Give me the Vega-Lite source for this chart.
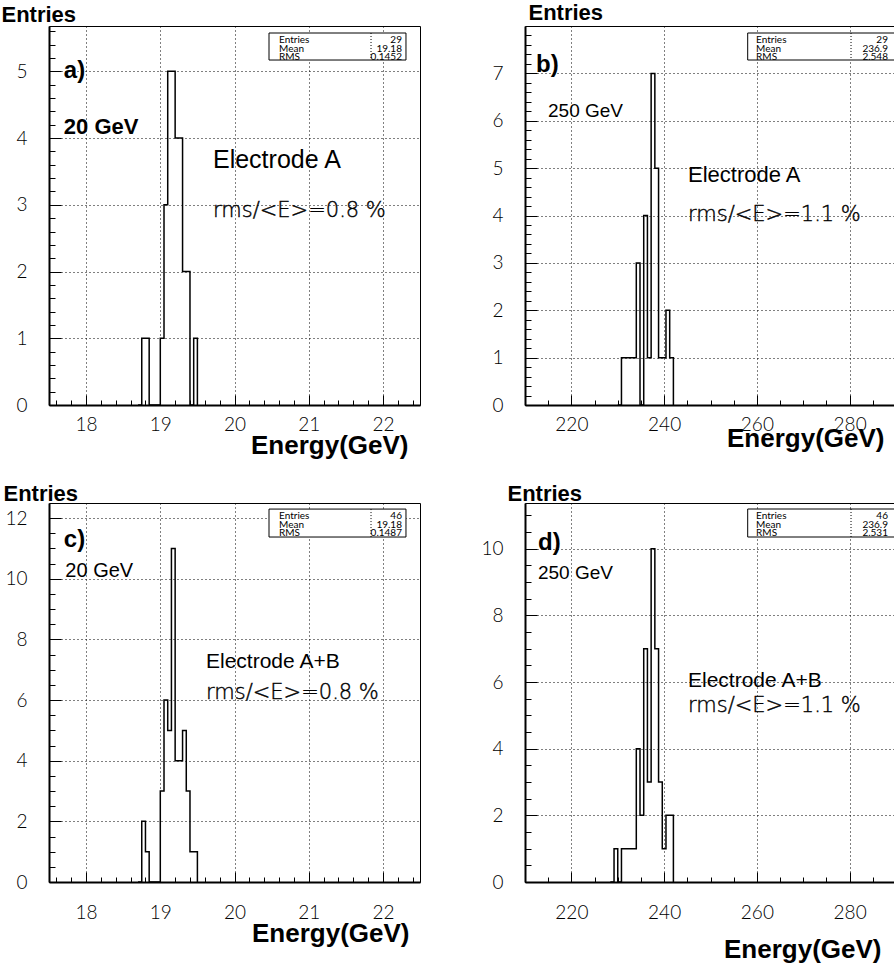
{
  "$schema": "https://vega.github.io/schema/vega-lite/v6.json",
  "background": "white",
  "padding": {"left": 0, "top": 0, "right": 0, "bottom": 0},
  "columns": 2,
  "spacing": {"row": 98, "column": 105},
  "bounds": "flush",
  "datasets": {
    "histA": [
      {"lo": 18.70, "n": 0}, {"lo": 18.75, "n": 1}, {"lo": 18.80, "n": 1}, {"lo": 18.85, "n": 0},
      {"lo": 19.00, "n": 1}, {"lo": 19.05, "n": 3}, {"lo": 19.10, "n": 5}, {"lo": 19.15, "n": 5},
      {"lo": 19.20, "n": 4}, {"lo": 19.25, "n": 4}, {"lo": 19.30, "n": 2}, {"lo": 19.35, "n": 2},
      {"lo": 19.40, "n": 0}, {"lo": 19.45, "n": 1}, {"lo": 19.50, "n": 0}
    ],
    "histB": [
      {"lo": 230.0, "n": 0}, {"lo": 230.8, "n": 1}, {"lo": 231.6, "n": 1}, {"lo": 232.4, "n": 1},
      {"lo": 233.2, "n": 1}, {"lo": 234.0, "n": 3}, {"lo": 234.8, "n": 0}, {"lo": 235.6, "n": 4},
      {"lo": 236.4, "n": 1}, {"lo": 237.2, "n": 7}, {"lo": 238.0, "n": 5}, {"lo": 238.8, "n": 1},
      {"lo": 239.6, "n": 1}, {"lo": 240.4, "n": 2}, {"lo": 241.2, "n": 1}, {"lo": 242.0, "n": 0}
    ],
    "histC": [
      {"lo": 18.70, "n": 0}, {"lo": 18.75, "n": 2}, {"lo": 18.80, "n": 1}, {"lo": 18.85, "n": 0},
      {"lo": 19.00, "n": 3}, {"lo": 19.05, "n": 6}, {"lo": 19.10, "n": 5}, {"lo": 19.15, "n": 11},
      {"lo": 19.20, "n": 4}, {"lo": 19.25, "n": 4}, {"lo": 19.30, "n": 5}, {"lo": 19.35, "n": 3},
      {"lo": 19.40, "n": 1}, {"lo": 19.45, "n": 1}, {"lo": 19.50, "n": 0}
    ],
    "histD": [
      {"lo": 228.4, "n": 0}, {"lo": 229.2, "n": 1}, {"lo": 230.0, "n": 0}, {"lo": 230.8, "n": 1},
      {"lo": 231.6, "n": 1}, {"lo": 232.4, "n": 1}, {"lo": 233.2, "n": 1}, {"lo": 234.0, "n": 4},
      {"lo": 234.8, "n": 2}, {"lo": 235.6, "n": 7}, {"lo": 236.4, "n": 3}, {"lo": 237.2, "n": 10},
      {"lo": 238.0, "n": 7}, {"lo": 238.8, "n": 3}, {"lo": 239.6, "n": 1}, {"lo": 240.4, "n": 2},
      {"lo": 241.2, "n": 2}, {"lo": 242.0, "n": 0}
    ],
    "one": [{}]
  },
  "concat": [
    {
      "width": 371, "height": 379,
      "resolve": {"axis": {"x": "independent", "y": "independent"}},
      "layer": [
        {
          "data": {"name": "histA"},
          "mark": {"type": "line", "interpolate": "step-after", "color": "black", "strokeWidth": 1.5},
          "encoding": {
            "x": {"field": "lo", "type": "quantitative", "scale": {"domain": [17.5, 22.5], "nice": false, "zero": false},
              "axis": {"orient": "bottom", "values": [18, 19, 20, 21, 22], "format": "d", "grid": true, "tickSize": -10, "labelPadding": 20,
                "title": "Energy(GeV)", "titleFontSize": 26, "titleAlign": "right", "titleBaseline": "alphabetic", "titleX": 359, "titleY": 48}},
            "y": {"field": "n", "type": "quantitative", "scale": {"domain": [0, 5.68], "nice": false},
              "axis": {"orient": "left", "values": [0, 1, 2, 3, 4, 5], "format": "d", "grid": true, "tickSize": -12, "labelPadding": 34,
                "title": "Entries", "titleFontSize": 22, "titleAngle": 0, "titleAlign": "left", "titleBaseline": "middle", "titleX": -48, "titleY": -12}}
          }
        },
        {
          "data": {"name": "histA"},
          "mark": {"type": "line", "strokeOpacity": 0},
          "encoding": {
            "x": {"field": "lo", "type": "quantitative", "scale": {"domain": [17.5, 22.5], "nice": false, "zero": false},
              "axis": {"orient": "bottom", "values": [17.6, 17.8, 18.2, 18.4, 18.6, 18.8, 19.2, 19.4, 19.6, 19.8, 20.2, 20.4, 20.6, 20.8, 21.2, 21.4, 21.6, 21.8, 22.2, 22.4],
                "labels": false, "grid": false, "domain": false, "tickSize": -5, "title": null}},
            "y": {"field": "n", "type": "quantitative", "scale": {"domain": [0, 5.68], "nice": false},
              "axis": {"orient": "left", "values": [0.2, 0.4, 0.6, 0.8, 1.2, 1.4, 1.6, 1.8, 2.2, 2.4, 2.6, 2.8, 3.2, 3.4, 3.6, 3.8, 4.2, 4.4, 4.6, 4.8, 5.2, 5.4, 5.6],
                "labels": false, "grid": false, "domain": false, "tickSize": -6, "title": null}}
          }
        },
        {"data": {"name": "one"}, "mark": {"type": "text", "fontSize": 24, "fontWeight": "bold"},
         "encoding": {"x": {"datum": 17.70, "axis": null}, "y": {"datum": 5.0, "axis": null}, "text": {"value": "a)"}}},
        {"data": {"name": "one"}, "mark": {"type": "text", "fontSize": 22, "fontWeight": "bold"},
         "encoding": {"x": {"datum": 17.70, "axis": null}, "y": {"datum": 4.166, "axis": null}, "text": {"value": "20 GeV"}}},
        {"data": {"name": "one"}, "mark": {"type": "text", "fontSize": 25, "fontWeight": "normal"},
         "encoding": {"x": {"datum": 19.71, "axis": null}, "y": {"datum": 3.671, "axis": null}, "text": {"value": "Electrode A"}}},
        {"data": {"name": "one"}, "mark": {"type": "text", "fontSize": 21, "font": "DejaVu Sans", "fontWeight": 200, "stroke": "black", "strokeWidth": 0.4},
         "encoding": {"x": {"datum": 19.71, "axis": null}, "y": {"datum": 2.907, "axis": null}, "text": {"value": "rms/<E>=0.8 %"}}},
        {"data": {"name": "one"}, "mark": {"type": "rect", "fill": "white", "stroke": "black", "strokeWidth": 1},
         "encoding": {"x": {"datum": 20.465, "axis": null}, "x2": {"datum": 22.311}, "y": {"datum": 5.575, "axis": null}, "y2": {"datum": 5.17}}},
        {"data": {"name": "one"}, "mark": {"type": "rule", "color": "black", "strokeDash": [1, 2]},
         "encoding": {"x": {"datum": 21.84, "axis": null}, "y": {"datum": 5.575, "axis": null}, "y2": {"datum": 5.17}}},
        {"data": {"name": "one"}, "mark": {"type": "text", "fontSize": 10, "font": "Lato", "baseline": "top", "lineHeight": 8.5},
         "encoding": {"x": {"datum": 20.6, "axis": null}, "y": {"datum": 5.545, "axis": null}, "text": {"value": ["Entries", "Mean", "RMS"]}}},
        {"data": {"name": "one"}, "mark": {"type": "text", "fontSize": 10, "font": "Lato", "baseline": "top", "align": "right", "lineHeight": 8.5},
         "encoding": {"x": {"datum": 22.257, "axis": null}, "y": {"datum": 5.545, "axis": null}, "text": {"value": ["29", "19.18", "0.1452"]}}}
      ]
    },
    {
      "width": 371, "height": 379,
      "resolve": {"axis": {"x": "independent", "y": "independent"}},
      "layer": [
        {
          "data": {"name": "histB"},
          "mark": {"type": "line", "interpolate": "step-after", "color": "black", "strokeWidth": 1.5},
          "encoding": {
            "x": {"field": "lo", "type": "quantitative", "scale": {"domain": [210, 290], "nice": false, "zero": false},
              "axis": {"orient": "bottom", "values": [220, 240, 260, 280], "format": "d", "grid": true, "tickSize": -10, "labelPadding": 20,
                "title": "Energy(GeV)", "titleFontSize": 26, "titleAlign": "right", "titleBaseline": "alphabetic", "titleX": 359, "titleY": 41}},
            "y": {"field": "n", "type": "quantitative", "scale": {"domain": [0, 8], "nice": false},
              "axis": {"orient": "left", "values": [0, 1, 2, 3, 4, 5, 6, 7], "format": "d", "grid": true, "tickSize": -12, "labelPadding": 34,
                "title": "Entries", "titleFontSize": 22, "titleAngle": 0, "titleAlign": "left", "titleBaseline": "middle", "titleX": 3, "titleY": -14}}
          }
        },
        {
          "data": {"name": "histB"},
          "mark": {"type": "line", "strokeOpacity": 0},
          "encoding": {
            "x": {"field": "lo", "type": "quantitative", "scale": {"domain": [210, 290], "nice": false, "zero": false},
              "axis": {"orient": "bottom", "values": [215, 225, 230, 235, 245, 250, 255, 265, 270, 275, 285],
                "labels": false, "grid": false, "domain": false, "tickSize": -5, "title": null}},
            "y": {"field": "n", "type": "quantitative", "scale": {"domain": [0, 8], "nice": false},
              "axis": {"orient": "left", "values": [0.2, 0.4, 0.6, 0.8, 1.2, 1.4, 1.6, 1.8, 2.2, 2.4, 2.6, 2.8, 3.2, 3.4, 3.6, 3.8, 4.2, 4.4, 4.6, 4.8, 5.2, 5.4, 5.6, 5.8, 6.2, 6.4, 6.6, 6.8, 7.2, 7.4, 7.6, 7.8],
                "labels": false, "grid": false, "domain": false, "tickSize": -6, "title": null}}
          }
        },
        {"data": {"name": "one"}, "mark": {"type": "text", "fontSize": 24, "fontWeight": "bold"},
         "encoding": {"x": {"datum": 212.37, "axis": null}, "y": {"datum": 7.177, "axis": null}, "text": {"value": "b)"}}},
        {"data": {"name": "one"}, "mark": {"type": "text", "fontSize": 19, "fontWeight": "normal"},
         "encoding": {"x": {"datum": 214.96, "axis": null}, "y": {"datum": 6.206, "axis": null}, "text": {"value": "250 GeV"}}},
        {"data": {"name": "one"}, "mark": {"type": "text", "fontSize": 22, "fontWeight": "normal"},
         "encoding": {"x": {"datum": 245.15, "axis": null}, "y": {"datum": 4.855, "axis": null}, "text": {"value": "Electrode A"}}},
        {"data": {"name": "one"}, "mark": {"type": "text", "fontSize": 21, "font": "DejaVu Sans", "fontWeight": 200, "stroke": "black", "strokeWidth": 0.4},
         "encoding": {"x": {"datum": 245.15, "axis": null}, "y": {"datum": 4.011, "axis": null}, "text": {"value": "rms/<E>=1.1 %"}}},
        {"data": {"name": "one"}, "mark": {"type": "rect", "fill": "white", "stroke": "black", "strokeWidth": 1},
         "encoding": {"x": {"datum": 258.02, "axis": null}, "x2": {"datum": 290}, "y": {"datum": 7.852, "axis": null}, "y2": {"datum": 7.282}}},
        {"data": {"name": "one"}, "mark": {"type": "rule", "color": "black", "strokeDash": [1, 2]},
         "encoding": {"x": {"datum": 280.3, "axis": null}, "y": {"datum": 7.852, "axis": null}, "y2": {"datum": 7.282}}},
        {"data": {"name": "one"}, "mark": {"type": "text", "fontSize": 10, "font": "Lato", "baseline": "top", "lineHeight": 8.5},
         "encoding": {"x": {"datum": 259.83, "axis": null}, "y": {"datum": 7.81, "axis": null}, "text": {"value": ["Entries", "Mean", "RMS"]}}},
        {"data": {"name": "one"}, "mark": {"type": "text", "fontSize": 10, "font": "Lato", "baseline": "top", "align": "right", "lineHeight": 8.5},
         "encoding": {"x": {"datum": 288.27, "axis": null}, "y": {"datum": 7.81, "axis": null}, "text": {"value": ["29", "236.9", "2.548"]}}}
      ]
    },
    {
      "width": 371, "height": 379,
      "resolve": {"axis": {"x": "independent", "y": "independent"}},
      "layer": [
        {
          "data": {"name": "histC"},
          "mark": {"type": "line", "interpolate": "step-after", "color": "black", "strokeWidth": 1.5},
          "encoding": {
            "x": {"field": "lo", "type": "quantitative", "scale": {"domain": [17.5, 22.5], "nice": false, "zero": false},
              "axis": {"orient": "bottom", "values": [18, 19, 20, 21, 22], "format": "d", "grid": true, "tickSize": -10, "labelPadding": 31,
                "title": "Energy(GeV)", "titleFontSize": 26, "titleAlign": "right", "titleBaseline": "alphabetic", "titleX": 360, "titleY": 59}},
            "y": {"field": "n", "type": "quantitative", "scale": {"domain": [0, 12.5], "nice": false},
              "axis": {"orient": "left", "values": [0, 2, 4, 6, 8, 10, 12], "format": "d", "grid": true, "tickSize": -12, "labelPadding": 34,
                "title": "Entries", "titleFontSize": 22, "titleAngle": 0, "titleAlign": "left", "titleBaseline": "middle", "titleX": -46, "titleY": -10}}
          }
        },
        {
          "data": {"name": "histC"},
          "mark": {"type": "line", "strokeOpacity": 0},
          "encoding": {
            "x": {"field": "lo", "type": "quantitative", "scale": {"domain": [17.5, 22.5], "nice": false, "zero": false},
              "axis": {"orient": "bottom", "values": [17.6, 17.8, 18.2, 18.4, 18.6, 18.8, 19.2, 19.4, 19.6, 19.8, 20.2, 20.4, 20.6, 20.8, 21.2, 21.4, 21.6, 21.8, 22.2, 22.4],
                "labels": false, "grid": false, "domain": false, "tickSize": -5, "title": null}},
            "y": {"field": "n", "type": "quantitative", "scale": {"domain": [0, 12.5], "nice": false},
              "axis": {"orient": "left", "values": [0.5, 1, 1.5, 2.5, 3, 3.5, 4.5, 5, 5.5, 6.5, 7, 7.5, 8.5, 9, 9.5, 10.5, 11, 11.5],
                "labels": false, "grid": false, "domain": false, "tickSize": -6, "title": null}}
          }
        },
        {"data": {"name": "one"}, "mark": {"type": "text", "fontSize": 24, "fontWeight": "bold"},
         "encoding": {"x": {"datum": 17.70, "axis": null}, "y": {"datum": 11.28, "axis": null}, "text": {"value": "c)"}}},
        {"data": {"name": "one"}, "mark": {"type": "text", "fontSize": 20, "fontWeight": "normal"},
         "encoding": {"x": {"datum": 17.72, "axis": null}, "y": {"datum": 10.257, "axis": null}, "text": {"value": "20 GeV"}}},
        {"data": {"name": "one"}, "mark": {"type": "text", "fontSize": 21, "fontWeight": "normal"},
         "encoding": {"x": {"datum": 19.616, "axis": null}, "y": {"datum": 7.256, "axis": null}, "text": {"value": "Electrode A+B"}}},
        {"data": {"name": "one"}, "mark": {"type": "text", "fontSize": 21, "font": "DejaVu Sans", "fontWeight": 200, "stroke": "black", "strokeWidth": 0.4},
         "encoding": {"x": {"datum": 19.616, "axis": null}, "y": {"datum": 6.233, "axis": null}, "text": {"value": "rms/<E>=0.8 %"}}},
        {"data": {"name": "one"}, "mark": {"type": "rect", "fill": "white", "stroke": "black", "strokeWidth": 1},
         "encoding": {"x": {"datum": 20.465, "axis": null}, "x2": {"datum": 22.311}, "y": {"datum": 12.30, "axis": null}, "y2": {"datum": 11.378}}},
        {"data": {"name": "one"}, "mark": {"type": "rule", "color": "black", "strokeDash": [1, 2]},
         "encoding": {"x": {"datum": 21.84, "axis": null}, "y": {"datum": 12.30, "axis": null}, "y2": {"datum": 11.378}}},
        {"data": {"name": "one"}, "mark": {"type": "text", "fontSize": 10, "font": "Lato", "baseline": "top", "lineHeight": 8.5},
         "encoding": {"x": {"datum": 20.6, "axis": null}, "y": {"datum": 12.236, "axis": null}, "text": {"value": ["Entries", "Mean", "RMS"]}}},
        {"data": {"name": "one"}, "mark": {"type": "text", "fontSize": 10, "font": "Lato", "baseline": "top", "align": "right", "lineHeight": 8.5},
         "encoding": {"x": {"datum": 22.257, "axis": null}, "y": {"datum": 12.236, "axis": null}, "text": {"value": ["46", "19.18", "0.1487"]}}}
      ]
    },
    {
      "width": 371, "height": 379,
      "resolve": {"axis": {"x": "independent", "y": "independent"}},
      "layer": [
        {
          "data": {"name": "histD"},
          "mark": {"type": "line", "interpolate": "step-after", "color": "black", "strokeWidth": 1.5},
          "encoding": {
            "x": {"field": "lo", "type": "quantitative", "scale": {"domain": [210, 290], "nice": false, "zero": false},
              "axis": {"orient": "bottom", "values": [220, 240, 260, 280], "format": "d", "grid": true, "tickSize": -10, "labelPadding": 31,
                "title": "Energy(GeV)", "titleFontSize": 26, "titleAlign": "right", "titleBaseline": "alphabetic", "titleX": 356, "titleY": 75}},
            "y": {"field": "n", "type": "quantitative", "scale": {"domain": [0, 11.37], "nice": false},
              "axis": {"orient": "left", "values": [0, 2, 4, 6, 8, 10], "format": "d", "grid": true, "tickSize": -12, "labelPadding": 34,
                "title": "Entries", "titleFontSize": 22, "titleAngle": 0, "titleAlign": "left", "titleBaseline": "middle", "titleX": -18, "titleY": -10}}
          }
        },
        {
          "data": {"name": "histD"},
          "mark": {"type": "line", "strokeOpacity": 0},
          "encoding": {
            "x": {"field": "lo", "type": "quantitative", "scale": {"domain": [210, 290], "nice": false, "zero": false},
              "axis": {"orient": "bottom", "values": [215, 225, 230, 235, 245, 250, 255, 265, 270, 275, 285],
                "labels": false, "grid": false, "domain": false, "tickSize": -5, "title": null}},
            "y": {"field": "n", "type": "quantitative", "scale": {"domain": [0, 11.37], "nice": false},
              "axis": {"orient": "left", "values": [0.5, 1, 1.5, 2.5, 3, 3.5, 4.5, 5, 5.5, 6.5, 7, 7.5, 8.5, 9, 9.5, 10.5, 11],
                "labels": false, "grid": false, "domain": false, "tickSize": -6, "title": null}}
          }
        },
        {"data": {"name": "one"}, "mark": {"type": "text", "fontSize": 24, "fontWeight": "bold"},
         "encoding": {"x": {"datum": 212.8, "axis": null}, "y": {"datum": 10.17, "axis": null}, "text": {"value": "d)"}}},
        {"data": {"name": "one"}, "mark": {"type": "text", "fontSize": 19, "fontWeight": "normal"},
         "encoding": {"x": {"datum": 212.8, "axis": null}, "y": {"datum": 9.27, "axis": null}, "text": {"value": "250 GeV"}}},
        {"data": {"name": "one"}, "mark": {"type": "text", "fontSize": 21, "fontWeight": "normal"},
         "encoding": {"x": {"datum": 245.15, "axis": null}, "y": {"datum": 6.03, "axis": null}, "text": {"value": "Electrode A+B"}}},
        {"data": {"name": "one"}, "mark": {"type": "text", "fontSize": 21, "font": "DejaVu Sans", "fontWeight": 200, "stroke": "black", "strokeWidth": 0.4},
         "encoding": {"x": {"datum": 245.15, "axis": null}, "y": {"datum": 5.28, "axis": null}, "text": {"value": "rms/<E>=1.1 %"}}},
        {"data": {"name": "one"}, "mark": {"type": "rect", "fill": "white", "stroke": "black", "strokeWidth": 1},
         "encoding": {"x": {"datum": 258.02, "axis": null}, "x2": {"datum": 290}, "y": {"datum": 11.19, "axis": null}, "y2": {"datum": 10.35}}},
        {"data": {"name": "one"}, "mark": {"type": "rule", "color": "black", "strokeDash": [1, 2]},
         "encoding": {"x": {"datum": 280.3, "axis": null}, "y": {"datum": 11.19, "axis": null}, "y2": {"datum": 10.35}}},
        {"data": {"name": "one"}, "mark": {"type": "text", "fontSize": 10, "font": "Lato", "baseline": "top", "lineHeight": 8.5},
         "encoding": {"x": {"datum": 259.83, "axis": null}, "y": {"datum": 11.13, "axis": null}, "text": {"value": ["Entries", "Mean", "RMS"]}}},
        {"data": {"name": "one"}, "mark": {"type": "text", "fontSize": 10, "font": "Lato", "baseline": "top", "align": "right", "lineHeight": 8.5},
         "encoding": {"x": {"datum": 288.27, "axis": null}, "y": {"datum": 11.13, "axis": null}, "text": {"value": ["46", "236.9", "2.531"]}}}
      ]
    }
  ],
  "config": {
    "view": {"stroke": "black", "strokeWidth": 1},
    "axis": {
      "domainColor": "black", "domainWidth": 2, "tickColor": "black", "tickWidth": 1,
      "labelColor": "black", "labelFont": "Lato", "labelFontWeight": 300, "labelFontSize": 19,
      "labelFlush": false, "labelOverlap": false,
      "gridColor": "black", "gridDash": [1, 3], "gridWidth": 1, "gridOpacity": 1,
      "titleColor": "black", "titleFont": "Liberation Sans", "titleFontWeight": "bold"
    },
    "text": {"font": "Liberation Sans", "color": "black", "align": "left", "baseline": "middle"}
  }
}
